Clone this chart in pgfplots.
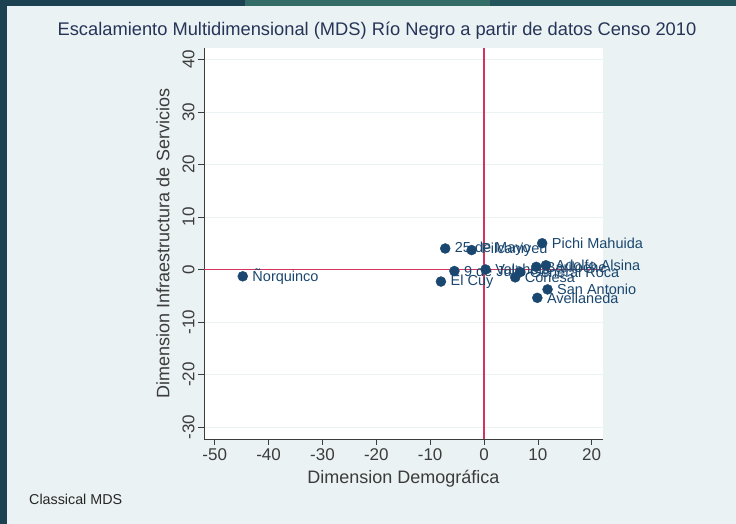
\documentclass[border=0pt]{standalone}
\usepackage{pgfplots}
\pgfplotsset{compat=1.18}
\usepackage{pgfplotstable}
\usepackage{fontspec}
\setmainfont{Liberation Sans}
\definecolor{bgc}{RGB}{234,242,243}
\definecolor{navy}{RGB}{26,71,111}
\definecolor{zeroline}{RGB}{212,52,92}
\definecolor{titc}{RGB}{38,52,88}
\definecolor{axc}{RGB}{60,60,60}
\definecolor{frameA}{RGB}{28,66,82}
\definecolor{frameB}{RGB}{52,108,104}
\definecolor{frameC}{RGB}{36,84,92}
\pgfplotstableread{
x y label
-44.8 -1.3 {Ñorquinco}
-8.0 -2.3 {El Cuy}
-7.2 4.0 {25 de Mayo}
-5.5 -0.3 {9 de Julio}
-2.3 3.7 {Pilcaniyeu}
0.3 0.0 {Valcheta}
5.8 -1.5 {Conesa}
6.7 -0.5 {General Roca}
9.7 0.5 {Bariloche}
11.5 0.8 {Adolfo Alsina}
10.8 5.0 {Pichi Mahuida}
11.8 -3.8 {San Antonio}
9.9 -5.4 {Avellaneda}
}\mdsdata
\begin{document}
\begin{tikzpicture}[x=1pt,y=1pt]
\useasboundingbox (0,0) rectangle (736,524);
\fill[bgc] (0,0) rectangle (736,524);
\fill[frameA] (0,518) rectangle (245,524);
\fill[frameB] (245,518) rectangle (490,524);
\fill[frameC] (490,518) rectangle (736,524);
\fill[frameA] (0,0) rectangle (7,524);
\begin{axis}[
  at={(204pt,85pt)}, anchor=south west,
  scale only axis, width=399pt, height=391pt,
  xmin=-52.0, xmax=22.1, ymin=-32.3, ymax=42.2,
  axis x line*=bottom, axis y line*=left,
  x axis line style={axc, line width=0.8pt, -},
  y axis line style={axc, line width=0.8pt, -},
  axis background/.style={fill=white},
  xtick={-50,-40,...,20}, ytick={-30,-20,...,40},
  tick align=outside, major tick length=6pt,
  tick style={axc, line width=0.7pt},
  ymajorgrids, grid style={bgc, line width=0.8pt},
  /pgf/number format/assume math mode=true,
  ticklabel style={font=\fontsize{17}{17}\selectfont, text=axc},
  yticklabel style={rotate=90, anchor=south},
  xlabel={Dimension Demográfica},
  ylabel={Dimension Infraestructura de Servicios},
  label style={font=\fontsize{18}{18}\selectfont, text=axc},
  xlabel style={at={(axis description cs:0.5,-0.1023)}, anchor=center},
  ylabel style={at={(axis description cs:-0.1028,0.5)}, anchor=center},
  title={Escalamiento Multidimensional (MDS) Río Negro a partir de datos Censo 2010},
  title style={font=\fontsize{18.3}{18.3}\selectfont, text=titc, at={(axis description cs:0.4336,1.0281)}, anchor=center},
  clip=false,
]
\addplot[draw=zeroline, line width=1.5pt] coordinates {(0,-32.3) (0,42.2)};
\addplot[draw=none, fill=zeroline] coordinates {(-52.0,-0.15) (22.1,-0.15) (22.1,0.15) (-52.0,0.15)} -- cycle;
\addplot[only marks, mark=*, mark size=5pt, mark options={fill=navy, draw=navy},
  point meta=explicit symbolic, nodes near coords,
  every node near coord/.append style={anchor=west, xshift=9.5pt, font=\fontsize{14.5}{14.5}\selectfont, text=navy, inner sep=0pt}]
  table[x=x, y=y, meta=label] {\mdsdata};
\end{axis}
\node[anchor=west, font=\fontsize{14.3}{14.3}\selectfont, text=black!85, inner sep=0pt] at (29,25) {Classical MDS};
\end{tikzpicture}
\end{document}
